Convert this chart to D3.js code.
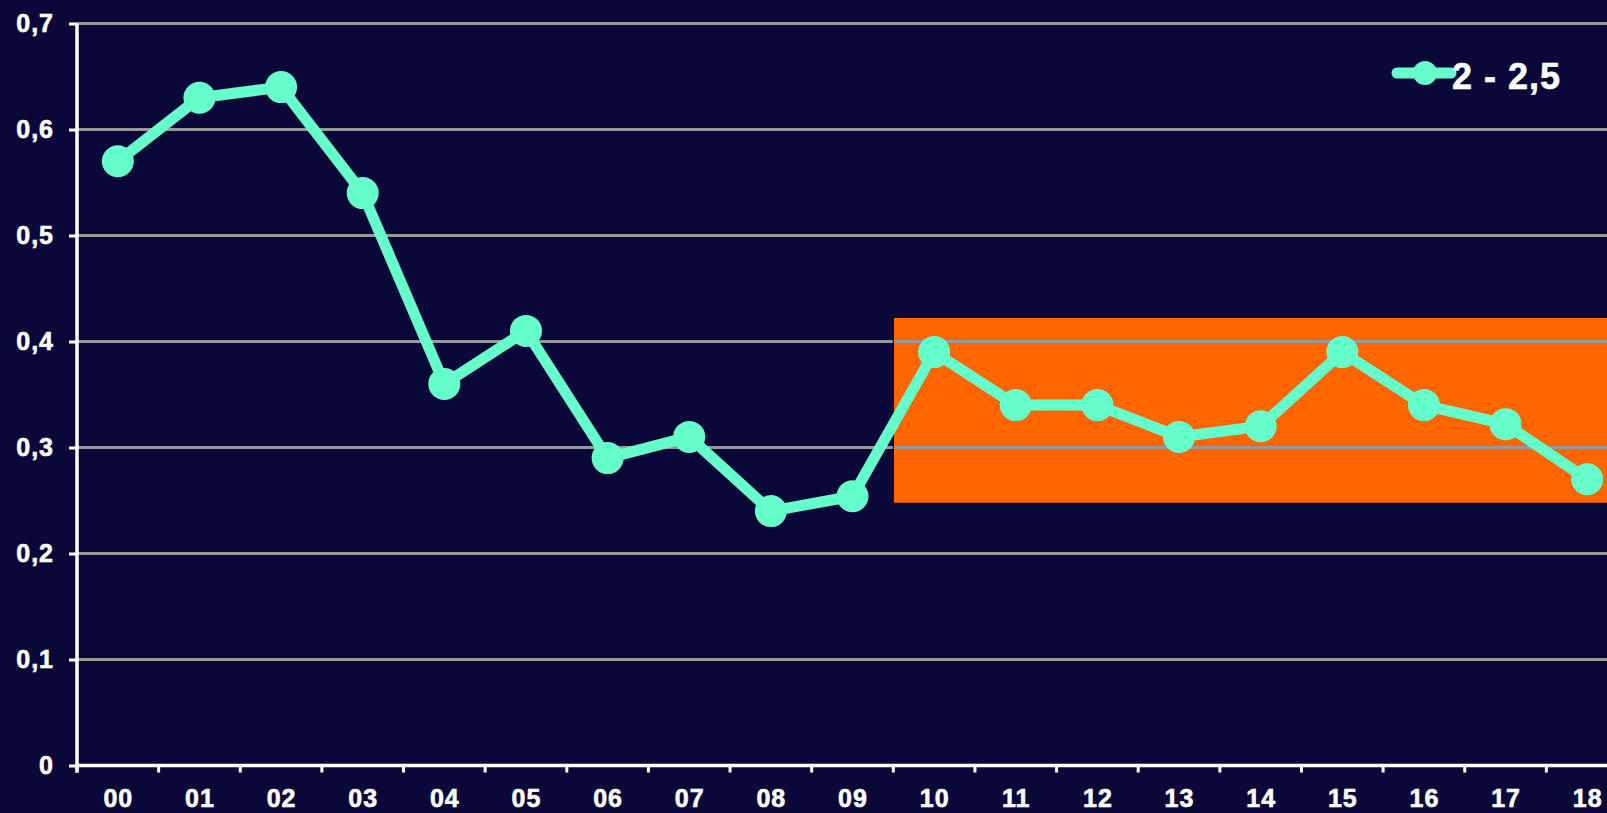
<!DOCTYPE html>
<html>
<head>
<meta charset="utf-8">
<script src="https://cdn.jsdelivr.net/npm/d3@7"></script>
<style>
  html, body { margin: 0; padding: 0; background: #0a0838; overflow: hidden; }
  svg { display: block; }
  text { font-family: "Liberation Sans", Arial, sans-serif; font-weight: bold; fill: #fff; }
</style>
</head>
<body>
<svg id="chart"></svg>
<script>
// data
const years = ['00', '01', '02', '03', '04', '05', '06', '07', '08', '09',
  '10', '11', '12', '13', '14', '15', '16', '17', '18'];
const values = [0.57, 0.63, 0.64, 0.54, 0.36, 0.41, 0.29, 0.31, 0.24, 0.254,
  0.39, 0.34, 0.34, 0.31, 0.32, 0.39, 0.34, 0.322, 0.27];
const yTicks = [0, 0.1, 0.2, 0.3, 0.4, 0.5, 0.6, 0.7];
const seriesName = '2 - 2,5';
// highlighted zone: from category '10' onwards, between these values
const zoneStart = '10';
const zoneRange = [0.2474, 0.4228];

let svg = d3.select('#chart')
    .attr('width', 1607)
    .attr('height', 813),
  margin = {top: 23.5, left: 77},
  plotRight = 1628,   // the chart is cut off at the right edge
  plotBottom = 765.5;

let xScale = d3.scaleBand()
  .domain(years)
  .range([margin.left, plotRight]);

let yScale = d3.scaleLinear()
  .domain([0, 0.7])
  .range([plotBottom, margin.top]);

// gridlines
svg.append('g')
  .attr('class', 'grid')
  .selectAll('line')
  .data(yTicks.filter(d => d > 0))
  .enter().append('line')
  .attr('x1', margin.left)
  .attr('x2', plotRight)
  .attr('y1', d => yScale(d))
  .attr('y2', d => yScale(d))
  .attr('stroke', '#999999')
  .attr('stroke-width', 3);

// orange zone
svg.append('rect')
  .attr('x', xScale(zoneStart))
  .attr('y', yScale(zoneRange[1]))
  .attr('width', plotRight - xScale(zoneStart))
  .attr('height', yScale(zoneRange[0]) - yScale(zoneRange[1]))
  .attr('fill', '#ff6600')
  .attr('stroke', '#000')
  .attr('stroke-width', 1);

// redraw gridlines over the zone
svg.append('g')
  .selectAll('line')
  .data(yTicks.filter(d => d > zoneRange[0] && d < zoneRange[1]))
  .enter().append('line')
  .attr('x1', xScale(zoneStart) + 1)
  .attr('x2', plotRight)
  .attr('y1', d => yScale(d))
  .attr('y2', d => yScale(d))
  .attr('stroke', '#999999')
  .attr('stroke-width', 3);

// axes
let yAxis = d3.axisLeft(yScale)
  .tickValues(yTicks)
  .tickSize(8)
  .tickPadding(15)
  .tickFormat(d => d === 0 ? '0' : d3.format('.1f')(d).replace('.', ','));

let gy = svg.append('g')
  .attr('class', 'axis yaxis')
  .attr('transform', 'translate(' + margin.left + ',0)')
  .call(yAxis);
gy.select('.domain').attr('stroke', '#fff').attr('stroke-width', 3.5)
  .attr('d', 'M0,' + (plotBottom + 7) + 'V' + margin.top);
gy.selectAll('.tick line').attr('stroke', '#fff').attr('stroke-width', 3);
gy.selectAll('text')
  .style('font-size', '25px')
  .style('letter-spacing', '1px')
  .attr('fill', '#fff')
  .attr('stroke', '#fff')
  .attr('stroke-width', 0.6);

let xAxis = d3.axisBottom(xScale).tickSize(0).tickPadding(24);
let gx = svg.append('g')
  .attr('class', 'axis xaxis')
  .attr('transform', 'translate(0,' + plotBottom + ')')
  .call(xAxis);
gx.select('.domain').attr('stroke', '#fff').attr('stroke-width', 3.5)
  .attr('d', 'M' + margin.left + ',0H' + plotRight);
gx.selectAll('text')
  .style('font-size', '25px')
  .style('letter-spacing', '1px')
  .attr('dx', '0.5px')
  .attr('fill', '#fff')
  .attr('stroke', '#fff')
  .attr('stroke-width', 0.6);

// small ticks between categories
svg.append('g')
  .selectAll('line')
  .data(years.concat(['end']))
  .enter().append('line')
  .attr('x1', (d, i) => margin.left + i * xScale.step())
  .attr('x2', (d, i) => margin.left + i * xScale.step())
  .attr('y1', plotBottom)
  .attr('y2', plotBottom + 7)
  .attr('stroke', '#fff')
  .attr('stroke-width', 3);

// series
let line = d3.line()
  .x((d, i) => xScale(years[i]) + xScale.bandwidth() / 2)
  .y(d => yScale(d));

svg.append('path')
  .datum(values)
  .attr('d', line)
  .attr('fill', 'none')
  .attr('stroke', '#66ffcc')
  .attr('stroke-width', 11)
  .attr('stroke-linejoin', 'round');

svg.append('g')
  .selectAll('.dot')
  .data(values)
  .enter().append('circle')
  .attr('class', 'dot')
  .attr('r', 16)
  .attr('cx', (d, i) => xScale(years[i]) + xScale.bandwidth() / 2)
  .attr('cy', d => yScale(d))
  .attr('fill', '#66ffcc');

// legend
let legend = svg.append('g').attr('transform', 'translate(1397,73)');
legend.append('line')
  .attr('x1', 0).attr('x2', 54)
  .attr('y1', 0).attr('y2', 0)
  .attr('stroke', '#66ffcc')
  .attr('stroke-width', 11)
  .attr('stroke-linecap', 'round');
legend.append('circle')
  .attr('cx', 28).attr('r', 12)
  .attr('fill', '#66ffcc');
legend.append('text')
  .attr('x', 55)
  .attr('y', 16)
  .style('font-size', '36px')
  .style('letter-spacing', '1px')
  .attr('stroke', '#fff')
  .attr('stroke-width', 0.6)
  .text(seriesName);
</script>
</body>
</html>
